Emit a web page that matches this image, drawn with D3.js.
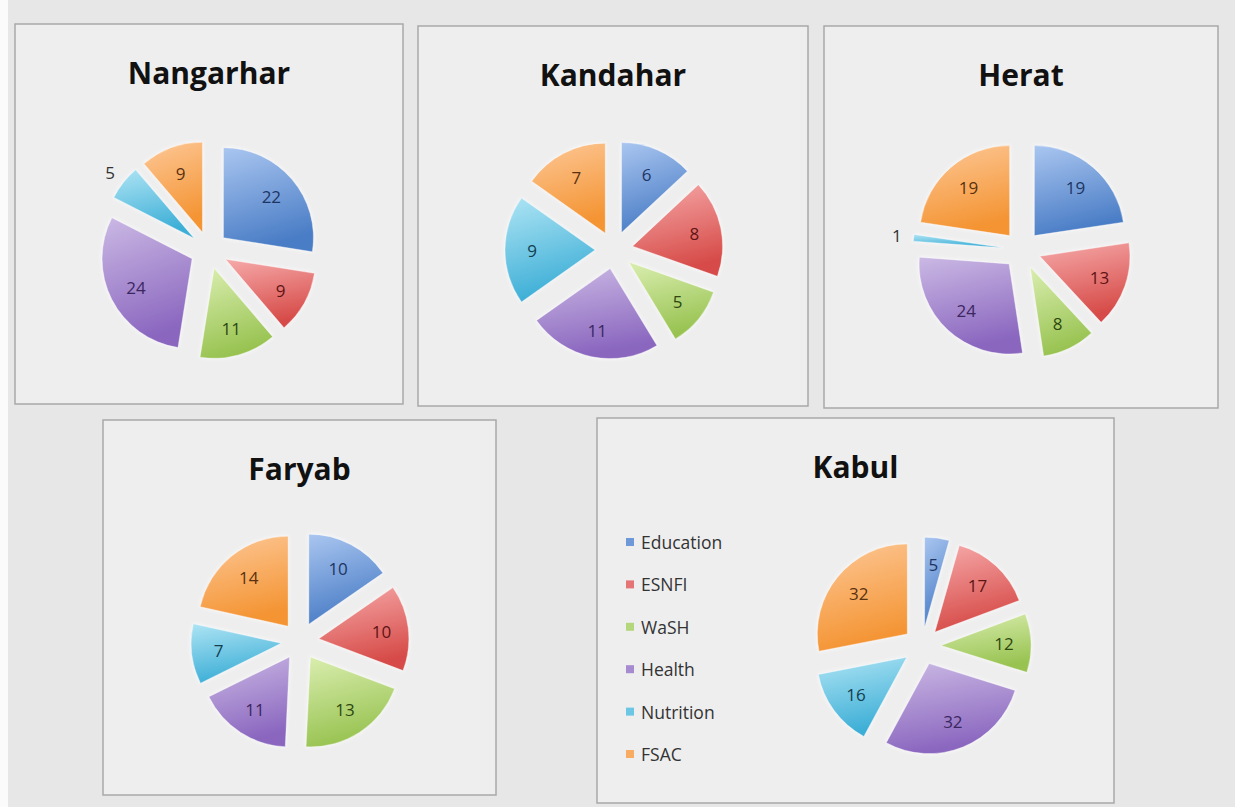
<!DOCTYPE html>
<html>
<head>
<meta charset="utf-8">
<script src="https://cdn.jsdelivr.net/npm/d3@7"></script>
<style>
  body { margin: 0; background: #e7e7e7; }
  svg { display: block; }
</style>
</head>
<body>
<div id="plot"></div>
<script>
// ############ DATA ###############

const sectors = ["Education", "ESNFI", "WaSH", "Health", "Nutrition", "FSAC"];
const provinces = ["Nangarhar", "Kandahar", "Herat", "Faryab", "Kabul"];

const nangarhar = [22, 9, 11, 24, 5, 9];
const kandahar = [6, 8, 5, 11, 9, 7];
const herat = [19, 13, 8, 24, 1, 19];
const faryab = [10, 10, 13, 11, 7, 14];
const kabul = [5, 17, 12, 32, 16, 32];

const values = [nangarhar, kandahar, herat, faryab, kabul];

// labels Excel put outside the slice ("best fit")
const outsideLabels = {Nangarhar: "Nutrition", Herat: "Nutrition"};

// ############ LAYOUT ###############

const w = 1235, h = 807;

const panels = [
  {x: 15,  y: 24,  w: 388, h: 380, cx: 209, cy: 250},
  {x: 418, y: 26,  w: 390, h: 380, cx: 614, cy: 250},
  {x: 824, y: 26,  w: 394, h: 382, cx: 1022, cy: 250},
  {x: 103, y: 420, w: 393, h: 375, cx: 300, cy: 641},
  {x: 597, y: 418, w: 517, h: 385, cx: 922, cy: 646}
];

const radius = 90;
const explode = 19;

const colorTop = ["#aac6f0", "#f6aaaa", "#daeeb0", "#cbb9e4", "#aee4f4", "#fdc897"];
const colorBottom = ["#4a7dc6", "#d64b48", "#98c351", "#8a66bf", "#3caed6", "#f49433"];
const colorMid = ["#6f98d8", "#e47574", "#b4d77c", "#a68bd0", "#6cc6e4", "#f8ac62"];
const labelColor = ["#1d3563", "#5e1414", "#2e4810", "#3b2760", "#12404f", "#5a3210"];

const colorScale = d3.scaleOrdinal().domain(sectors).range(colorMid);

// ############ SETUP ###############

const svg = d3.select("div#plot")
  .append("svg")
  .attr("width", w)
  .attr("height", h);

svg.append("rect")
  .attr("width", w)
  .attr("height", h)
  .attr("fill", "#e7e7e7");

svg.append("rect")
  .attr("width", 8)
  .attr("height", h)
  .attr("fill", "#fbfbfb");

const defs = svg.append("defs");

sectors.forEach((s, i) => {
  const g = defs.append("linearGradient")
    .attr("id", "grad" + i)
    .attr("x1", 0).attr("y1", 0)
    .attr("x2", 0.25).attr("y2", 1);
  g.append("stop").attr("offset", "0%").attr("stop-color", colorTop[i]);
  g.append("stop").attr("offset", "100%").attr("stop-color", colorBottom[i]);
});

const glow = defs.append("filter")
  .attr("id", "glow")
  .attr("x", "-20%").attr("y", "-20%")
  .attr("width", "140%").attr("height", "140%");
glow.append("feGaussianBlur")
  .attr("in", "SourceAlpha")
  .attr("stdDeviation", 2)
  .attr("result", "blur");
glow.append("feFlood").attr("flood-color", "#ffffff").attr("flood-opacity", 0.8);
glow.append("feComposite").attr("in2", "blur").attr("operator", "in").attr("result", "halo");
const merge = glow.append("feMerge");
merge.append("feMergeNode").attr("in", "halo");
merge.append("feMergeNode").attr("in", "SourceGraphic");

const pie = d3.pie().sort(null).value(d => d);
const arc = d3.arc().innerRadius(0).outerRadius(radius);

// ############ PANELS ###############

provinces.forEach((name, p) => {
  const box = panels[p];

  const panel = svg.append("g").attr("id", "panel" + p);

  panel.append("rect")
    .attr("x", box.x)
    .attr("y", box.y)
    .attr("width", box.w)
    .attr("height", box.h)
    .attr("fill", "#eeeeee")
    .attr("stroke", "#a9a9a9")
    .attr("stroke-width", 1.5);

  panel.append("text")
    .attr("x", box.x + box.w / 2)
    .attr("y", box.y + 60)
    .attr("text-anchor", "middle")
    .style("font-family", "'Open Sans', sans-serif")
    .style("font-weight", 700)
    .style("font-size", "30px")
    .style("fill", "#111")
    .text(name);

  const arcs = pie(values[p]).map((d, i) => {
    const mid = (d.startAngle + d.endAngle) / 2;
    return Object.assign(d, {sector: sectors[i], idx: i, mid: mid,
      dx: Math.sin(mid) * explode, dy: -Math.cos(mid) * explode});
  });

  const pieG = panel.append("g")
    .attr("transform", `translate(${box.cx}, ${box.cy})`);

  pieG.selectAll("path")
    .data(arcs)
    .enter()
    .append("path")
      .attr("d", arc)
      .attr("transform", d => `translate(${d.dx}, ${d.dy})`)
      .attr("fill", d => `url(#grad${d.idx})`)
      .attr("stroke", "#ffffff")
      .attr("stroke-opacity", 0.35)
      .attr("stroke-width", 1)
      .attr("filter", "url(#glow)");

  const labelR = d => outsideLabels[name] === d.sector ? explode + radius + 17 : explode + radius * 0.7;

  pieG.selectAll("text")
    .data(arcs)
    .enter()
    .append("text")
      .attr("x", d => Math.sin(d.mid) * labelR(d))
      .attr("y", d => -Math.cos(d.mid) * labelR(d))
      .attr("text-anchor", "middle")
      .attr("dominant-baseline", "central")
      .style("font-family", "'Open Sans', sans-serif")
      .style("font-size", "17px")
      .style("fill", d => outsideLabels[name] === d.sector ? "#333" : labelColor[d.idx])
      .text(d => d.data);
});

// ############ LEGEND ###############

const legend = svg.append("g")
  .attr("id", "legend")
  .attr("transform", "translate(626, 542)");

const legendScale = d3.scalePoint()
  .domain(sectors)
  .range([0, 212]);

const items = legend.selectAll("g")
  .data(sectors)
  .enter()
  .append("g")
    .attr("transform", d => `translate(0, ${legendScale(d)})`);

items.append("rect")
  .attr("x", 0)
  .attr("y", -4)
  .attr("width", 8)
  .attr("height", 8)
  .attr("fill", d => colorScale(d));

items.append("text")
  .attr("x", 15)
  .attr("y", 0)
  .attr("dominant-baseline", "central")
  .style("font-family", "'Open Sans', sans-serif")
  .style("font-size", "17.5px")
  .style("fill", "#333")
  .text(d => d);
</script>
</body>
</html>
